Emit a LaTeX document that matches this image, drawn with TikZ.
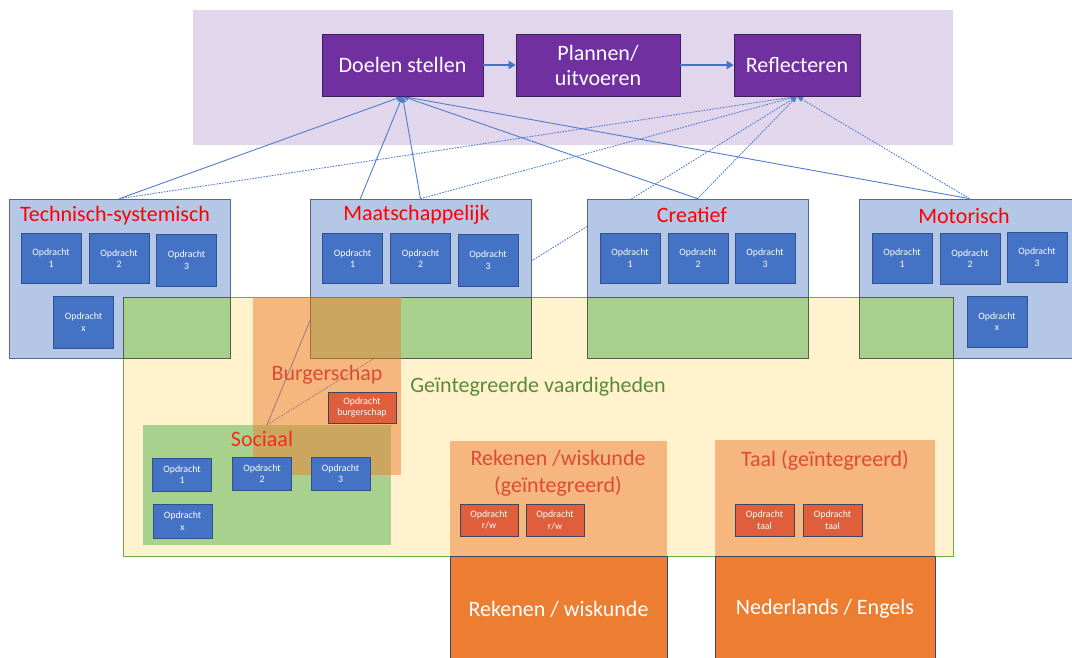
\documentclass[tikz,border=0pt]{standalone}
\usepackage{fontspec}
\setmainfont{Carlito}
\usetikzlibrary{arrows.meta}

\pgfdeclarelayer{back}
\pgfdeclarelayer{links}
\pgfsetlayers{back,links,main}

\begin{document}
\begin{tikzpicture}[x=1pt, y=-1pt,
        box/.style={draw, line width=0.7pt, inner sep=0pt, align=center},
        doel/.style={box, fill=paars, draw=paarsrand, text=white, minimum height=62pt, font=\fontsize{22}{25}\selectfont},
        gebied/.style={box, fill=lichtblauw, draw=blauwrand, minimum width=221pt, minimum height=159pt},
        opdracht/.style={box, fill=blauw, draw=blauwdonker, text=white, minimum width=60pt, minimum height=50pt, font=\fontsize{9.8}{11.5}\selectfont},
        klein/.style={minimum width=59pt, minimum height=33pt},
        rood/.style={opdracht, fill=roodoranje, draw=donkerrand, minimum width=58pt, minimum height=32pt},
        vak/.style={box, fill=oranje, draw=donkerrand, text=white, minimum height=106pt, font=\fontsize{22}{25}\selectfont},
        kop/.style={text=red, font=\fontsize{22}{25}\selectfont},
        label/.style={text=labelrood, align=center, font=\fontsize{22}{27}\selectfont},
        stap/.style={line width=2pt, draw=blauw, -{Triangle[length=7pt, width=8pt]}},
        lijn/.style={line width=0.9pt, draw=lijnblauw, -{Triangle[length=6pt, width=5pt]}},
        stippel/.style={dash pattern=on 1.6pt off 1.2pt}]
        \definecolor{lila}{RGB}{225,214,236}
        \definecolor{paars}{RGB}{112,48,160}
        \definecolor{paarsrand}{RGB}{60,30,90}
        \definecolor{lichtblauw}{RGB}{180,199,231}
        \definecolor{blauwrand}{RGB}{90,105,130}
        \definecolor{blauw}{RGB}{68,114,196}
        \definecolor{lijnblauw}{RGB}{80,125,205}
        \definecolor{blauwdonker}{RGB}{47,82,143}
        \definecolor{donkerrand}{RGB}{60,70,95}
        \definecolor{geel}{RGB}{255,242,204}
        \definecolor{groenrand}{RGB}{112,173,71}
        \definecolor{groen}{RGB}{169,209,142}
        \definecolor{groendonker}{RGB}{80,95,75}
        \definecolor{oranje}{RGB}{237,125,49}
        \definecolor{roodoranje}{RGB}{224,94,60}
        \definecolor{labelrood}{RGB}{222,75,55}
        \definecolor{sociaalrood}{RGB}{245,45,30}
        \definecolor{tekstgroen}{RGB}{88,140,58}

        \useasboundingbox (0,0) rectangle (1072,657);

        % Backgrounds
        \begin{pgfonlayer}{back}
            \fill[lila] (193,10) rectangle (953,145);
            \draw[fill=geel, draw=groenrand, line width=0.6pt] (123,297) rectangle (953,556);
        \end{pgfonlayer}

        % Steps at the top
        \node[doel, minimum width=161pt] (doelen) at (402.5,65) {Doelen stellen};
        \node[doel, minimum width=164pt] (plannen) at (598,65) {Plannen/\\uitvoeren};
        \node[doel, minimum width=126pt] (reflect) at (797,65) {Reflecteren};
        \draw[stap] (doelen) -- (plannen);
        \draw[stap] (plannen) -- (reflect);

        % The four areas
        \node[gebied] (techn) at (119.5,278.5) {};
        \node[gebied] (maat) at (420.5,278.5) {};
        \node[gebied] (creat) at (697.5,278.5) {};
        \node[gebied] (motor) at (969.5,278.5) {};

        % Overlap with the integrated skills
        \filldraw[fill=groen, draw=groendonker, line width=0.6pt] (123,297) rectangle (230,358);
        \filldraw[fill=groen, draw=groendonker, line width=0.6pt] (310,297) rectangle (531,358);
        \filldraw[fill=groen, draw=groendonker, line width=0.6pt] (587,297) rectangle (808,358);
        \filldraw[fill=groen, draw=groendonker, line width=0.6pt] (859,297) rectangle (953,358);

        % Sociaal and Burgerschap
        \node[fill=groen, minimum width=248pt, minimum height=120pt, inner sep=0pt] (sociaal) at (267,485) {};
        \fill[oranje, opacity=0.5] (253,297) rectangle (401,475);

        % Rekenen and Taal
        \fill[oranje, opacity=0.5] (450,441) rectangle (667,556);
        \fill[oranje, opacity=0.5] (715,440) rectangle (935,556);
        \node[vak, minimum width=217pt] (reken) at (558.5,609) {Rekenen / wiskunde};
        \node[vak, minimum width=220pt] (nedeng) at (825,609) {Nederlands / Engels};

        % Titles
        \node[kop] (technkop) at (115,216) {Technisch-systemisch};
        \node[kop] (maatkop) at (416.5,215) {Maatschappelijk};
        \node[kop] (creatkop) at (692,215) {Creatief};
        \node[kop] (motorkop) at (964,216) {Motorisch};
        \node[label] (burgerkop) at (327,375) {Burgerschap};
        \node[label, text=sociaalrood] (sociaalkop) at (262,439) {Sociaal};
        \node[label, text=tekstgroen] (integr) at (538,387) {Geïntegreerde vaardigheden};
        \node[label] (rekenkop) at (558,473) {Rekenen /wiskunde\\(geïntegreerd)};
        \node[label] (taalkop) at (825,460) {Taal (geïntegreerd)};

        % Assignments
        \node[opdracht] (t1) at (51,258) {Opdracht\\1};
        \node[opdracht] (t2) at (119,258.5) {Opdracht\\2};
        \node[opdracht, minimum height=52pt] (t3) at (186.5,260) {Opdracht\\3};
        \node[opdracht, minimum height=52pt] (tx) at (83.5,322) {Opdracht\\x};

        \node[opdracht] (m1) at (352.5,258.5) {Opdracht\\1};
        \node[opdracht] (m2) at (420.5,258.5) {Opdracht\\2};
        \node[opdracht, minimum height=52pt] (m3) at (488,260) {Opdracht\\3};

        \node[opdracht] (c1) at (630,258) {Opdracht\\1};
        \node[opdracht] (c2) at (698,258) {Opdracht\\2};
        \node[opdracht] (c3) at (765,258) {Opdracht\\3};

        \node[opdracht] (mo1) at (902,258) {Opdracht\\1};
        \node[opdracht, minimum height=51pt] (mo2) at (970,258.5) {Opdracht\\2};
        \node[opdracht] (mo3) at (1037,257) {Opdracht\\3};
        \node[opdracht, minimum height=51pt] (mox) at (997,321.5) {Opdracht\\x};

        \node[opdracht, klein] (s1) at (182,474.5) {Opdracht\\1};
        \node[opdracht, klein] (s2) at (262,473.5) {Opdracht\\2};
        \node[opdracht, klein] (s3) at (340.5,473.5) {Opdracht\\3};
        \node[opdracht, klein, minimum height=34pt] (sx) at (182.5,521) {Opdracht\\x};

        \node[rood, minimum width=68pt, minimum height=31pt] (b1) at (362,407.5) {Opdracht\\burgerschap};
        \node[rood] (r1) at (489,520) {Opdracht\\r/w};
        \node[rood] (r2) at (555,520.5) {Opdracht\\r/w};
        \node[rood, minimum width=59pt] (ta1) at (764.5,520) {Opdracht\\taal};
        \node[rood, minimum width=59pt] (ta2) at (832.5,520) {Opdracht\\taal};

        % Links to the steps
        \begin{pgfonlayer}{links}
            \draw[lijn] (techn.north) -- (doelen.south);
            \draw[lijn, stippel] (techn.north) -- (reflect.south);
            \draw[lijn] (maat.north) -- (doelen.south);
            \draw[lijn, stippel] (maat.north) -- (reflect.south);
            \draw[lijn] (creat.north) -- (doelen.south);
            \draw[lijn, stippel] (creat.north) -- (reflect.south);
            \draw[lijn] (motor.north) -- (doelen.south);
            \draw[lijn, stippel] (motor.north) -- (reflect.south);
            \draw[lijn] (sociaal.north) -- (doelen.south);
            \draw[lijn, stippel] (sociaal.north) -- (reflect.south);
        \end{pgfonlayer}
    \end{tikzpicture}
\end{document}
